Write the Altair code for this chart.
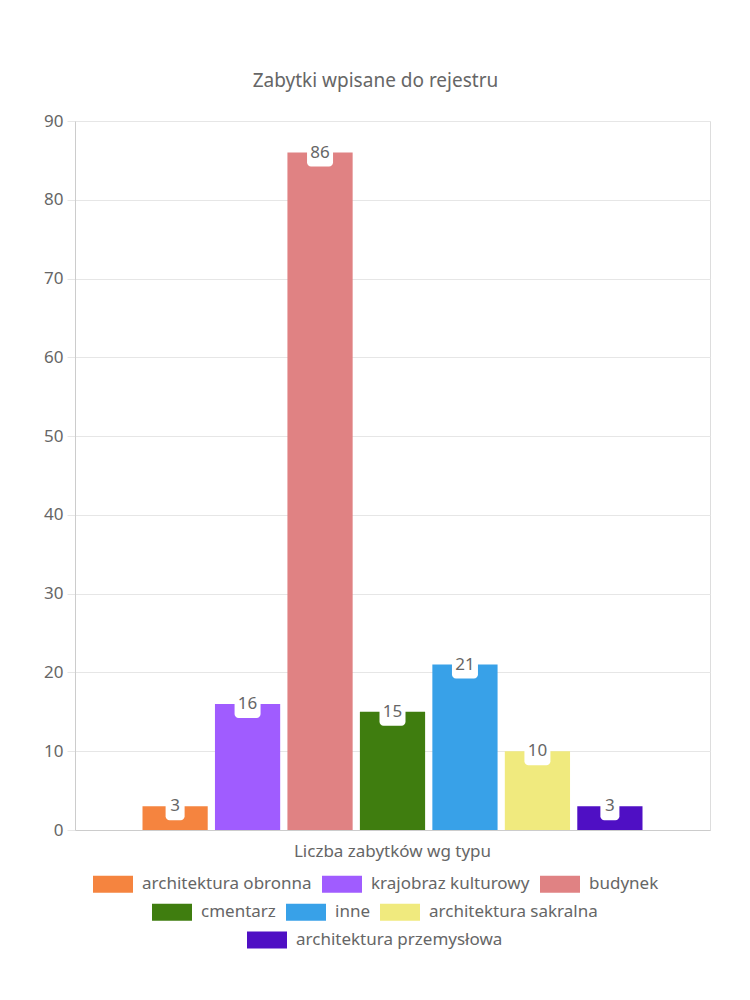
import altair as alt
import pandas as pd

categories = ["Liczba zabytków wg typu"]
types = ["architektura obronna", "krajobraz kulturowy", "budynek", "cmentarz",
         "inne", "architektura sakralna", "architektura przemysłowa"]
values = [3, 16, 86, 15, 21, 10, 3]
colors = ["#F5843F", "#A05CFF", "#E08283", "#3F7D0F", "#38A1E8", "#F0EA7E", "#4F0FC4"]
title_text = "Zabytki wpisane do rejestru"

FONT = "Noto Sans"
TXT = "#666666"
GRID = "#e6e6e6"

df = pd.DataFrame({"category": categories[0], "type": types, "value": values})
df["label"] = df["value"].astype(str)

x_enc = alt.X("category:N",
              scale=alt.Scale(paddingInner=0, paddingOuter=0.135),
              axis=alt.Axis(title=None, labelAngle=0, labelFontSize=17, labelColor=TXT,
                            labelFont=FONT, labelPadding=13, labelLimit=0,
                            domainColor="#cccccc", ticks=False, grid=False))
xo_enc = alt.XOffset("type:N", scale=alt.Scale(domain=types, paddingInner=0.1, paddingOuter=0))
y_enc = alt.Y("value:Q",
              scale=alt.Scale(domain=[0, 90], nice=False),
              axis=alt.Axis(title=None, values=list(range(0, 91, 10)), labelFontSize=17,
                            labelColor=TXT, labelFont=FONT, labelPadding=4,
                            domainColor="#cccccc", tickColor=GRID, tickSize=8,
                            gridColor=GRID))

rows = [(0, 3, 18, 743), (3, 6, 77, 771), (6, 7, 172, 799)]
layers = []
for a, b, lx, ly in rows:
    rt = types[a:b]
    rc = colors[a:b]
    layers.append(
        alt.Chart(df).transform_filter(alt.FieldOneOfPredicate(field="type", oneOf=rt))
        .mark_bar()
        .encode(x=x_enc, xOffset=xo_enc, y=y_enc,
                color=alt.Color("type:N", scale=alt.Scale(domain=rt, range=rc),
                                legend=alt.Legend(orient="none", legendX=lx, legendY=ly,
                                                  direction="horizontal", title=None,
                                                  symbolType="M-1,-0.425H1V0.425H-1Z",
                                                  symbolSize=1600, symbolStrokeWidth=0,
                                                  symbolOpacity=1, labelFontSize=17,
                                                  labelFont=FONT, labelColor=TXT,
                                                  labelOffset=9, columnPadding=10,
                                                  padding=0, labelLimit=400)))
    )

one_digit = alt.FieldLTPredicate(field="value", lt=10)
boxes1 = (alt.Chart(df).transform_filter(one_digit)
          .mark_rect(width=19, height=28, cornerRadius=4, color="white")
          .encode(x=x_enc, xOffset=xo_enc, y=y_enc))
boxes2 = (alt.Chart(df).transform_filter(alt.FieldGTEPredicate(field="value", gte=10))
          .mark_rect(width=26, height=28, cornerRadius=4, color="white")
          .encode(x=x_enc, xOffset=xo_enc, y=y_enc))
texts = (alt.Chart(df)
         .mark_text(baseline="middle", fontSize=17, font=FONT, color=TXT)
         .encode(x=x_enc, xOffset=xo_enc, y=y_enc, text="label:N"))

chart = (alt.layer(*layers, boxes1, boxes2, texts)
         .resolve_scale(color="independent")
         .properties(width=635, height=709,
                     title=alt.TitleParams(title_text, fontSize=19, font=FONT, color=TXT,
                                           fontWeight="normal", anchor="middle", dx=-17,
                                           offset=21),
                     autosize=alt.AutoSizeParams(type="none"),
                     padding={"left": 75, "top": 121, "right": 40, "bottom": 170})
         .configure_view(stroke=GRID)
         .configure(background="white"))

chart.save("out.html", embed_options={"renderer": "svg", "actions": False})
